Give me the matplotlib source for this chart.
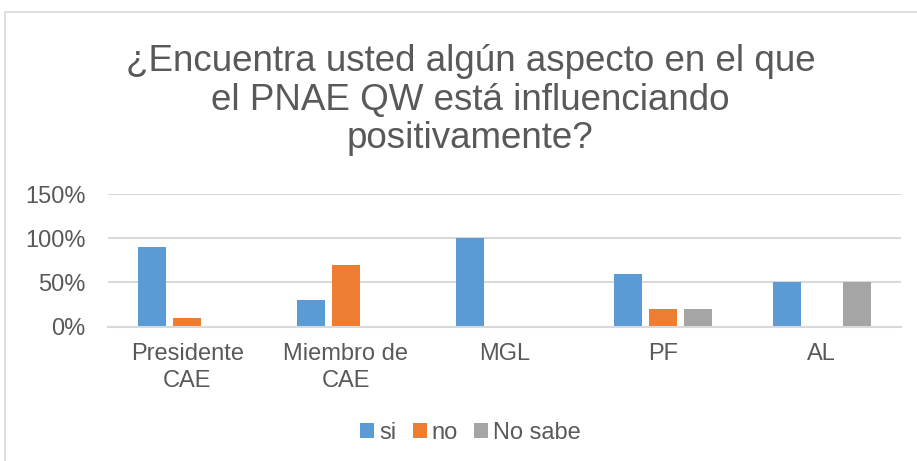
import matplotlib
matplotlib.use("Agg")
import matplotlib.pyplot as plt
import numpy as np
from matplotlib.patches import Rectangle
from matplotlib.ticker import PercentFormatter

categories = ["Presidente\nCAE", "Miembro de\nCAE", "MGL", "PF", "AL"]
series_names = ["si", "no", "No sabe"]
si = [0.90, 0.30, 1.00, 0.60, 0.50]
no = [0.10, 0.70, 0.0, 0.20, 0.0]
no_sabe = [0.0, 0.0, 0.0, 0.20, 0.50]
colors = ["#5B9BD5", "#ED7D31", "#A5A5A5"]
yticks = [0, 0.5, 1.0, 1.5]
title = "¿Encuentra usted algún aspecto en el que\nel PNAE QW está influenciando\npositivamente?"

plt.rcParams['font.family'] = ['Liberation Sans', 'DejaVu Sans']
text_color = "#595959"

fig = plt.figure(figsize=(9.17, 4.61), dpi=100)
fig.patches.append(Rectangle((4.5/917, -0.1), 1.2, 1 - 12.5/461 + 0.1, transform=fig.transFigure,
                             fill=False, edgecolor="#D9D9D9", linewidth=1.2))

ax = fig.add_axes([108/917, 1 - 326.5/461, (901 - 108)/917, (326.5 - 194)/461])
x = np.arange(len(categories))
step = 0.22
w = 0.177
for i, (vals, name) in enumerate(zip([si, no, no_sabe], series_names)):
    ax.bar(x + (i - 1) * step, vals, width=w, color=colors[i], linewidth=0,
           label=name, zorder=3)

ax.set_xlim(-0.5, len(categories) - 0.5)
ax.set_ylim(0, 1.5)
ax.set_yticks(yticks)
ax.yaxis.set_major_formatter(PercentFormatter(1.0, decimals=0))
ax.set_xticks(x)
ax.set_xticklabels(categories, linespacing=1.3)
ax.grid(axis="y", color="#D9D9D9", linewidth=1.5, zorder=0)
for s in ["top", "right", "left"]:
    ax.spines[s].set_visible(False)
ax.spines["bottom"].set_color("#D9D9D9")
ax.spines["bottom"].set_linewidth(1.5)
ax.spines["bottom"].set_zorder(4)
ax.tick_params(axis="both", length=0, labelsize=17, colors=text_color)
ax.tick_params(axis="x", pad=12)
ax.tick_params(axis="y", pad=16)

fig.text(0.513, 1 - 44/461, title, ha="center", va="top", fontsize=26.5, color=text_color,
         linespacing=1.13)

leg = fig.legend(loc="center", bbox_to_anchor=(0.513, 1 - 433/461), ncol=3, frameon=False,
                 fontsize=17, handlelength=0.6, handleheight=0.6, handletextpad=0.2,
                 columnspacing=0.7, labelcolor=text_color)

fig.savefig("out.png", dpi=100, facecolor="white")
